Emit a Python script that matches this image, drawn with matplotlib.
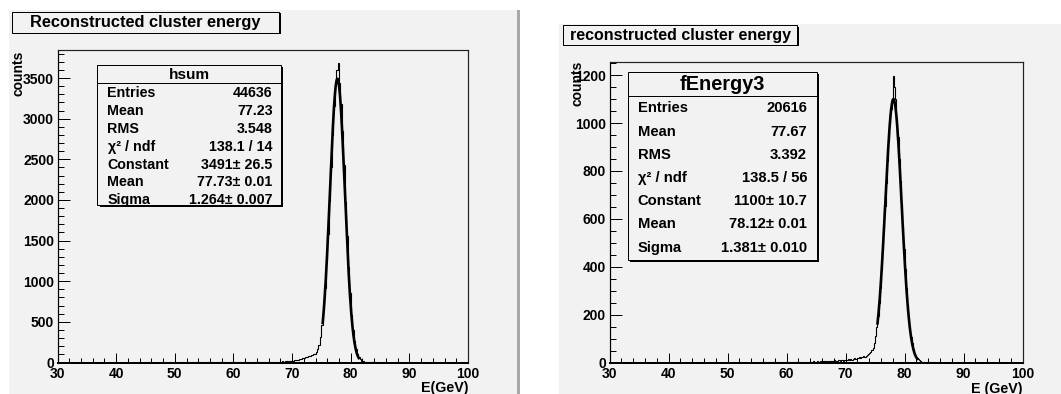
import numpy as np
import matplotlib
matplotlib.use("Agg")
import matplotlib.pyplot as plt
from matplotlib.patches import Rectangle
from matplotlib.ticker import MultipleLocator

# ---------------- data ----------------
# Left histogram: "hsum", bins of 0.25 GeV from 30 to 100 GeV
left_bin_start = 30.0
left_bin_width = 0.25
left_counts = (
    [0] * 60  # 30 - 45 GeV
    + [0, 0, 1, 0, 0, 0, 0, 1, 0, 0, 0, 1, 0, 0, 2, 0, 0, 1, 0, 0,
       1, 0, 0, 2, 0, 1, 0, 0, 1, 0, 0, 2, 1, 0, 0, 1, 0, 2, 0, 1,
       1, 0, 2, 1, 0, 1, 2, 0, 1, 3, 0, 2, 1, 1, 3, 0, 2, 1, 2, 4]  # 45 - 60
    + [2, 0, 3, 1, 4, 2, 0, 3, 5, 2, 4, 1, 3, 6, 2, 4, 5, 3, 7, 4,
       6, 4, 8, 5, 7, 9, 6, 8, 10, 7, 12, 9, 11, 14, 10, 13, 15, 12, 17, 14]  # 60 - 70
    + [22, 25, 28, 32, 36, 42, 46, 52, 58, 64, 70, 78, 86, 95, 102, 110]  # 70 - 74
    + [130, 160, 215, 310, 460, 660, 920, 1240]  # 74 - 76
    + [1580, 1990, 2400, 2800, 3150, 3400, 3600, 3685,
       3440, 3180, 2850, 2430, 1980, 1560, 1170, 850]  # 76 - 80
    + [590, 400, 262, 168, 104, 64, 38, 24, 15, 10, 7, 5, 4, 3, 2, 2]  # 80 - 84
    + [1, 1, 0, 1, 0, 0, 1, 0]  # 84 - 86
    + [0] * 56  # 86 - 100
)

# Right histogram: "fEnergy3", bins of 0.2 GeV from 30 to 100 GeV
right_bin_start = 30.0
right_bin_width = 0.2
right_counts = (
    [0] * 125  # 30 - 55 GeV
    + [0, 0, 1, 0, 0, 0, 1, 0, 0, 0, 1, 0, 0, 1, 0, 0, 0, 1, 0, 1, 0, 1, 0, 0, 1]  # 55 - 60
    + [1, 0, 2, 1, 0, 2, 1, 3, 1, 2, 2, 3, 1, 4, 2, 3, 2, 4, 3, 2, 4, 3, 5, 3, 4]  # 60 - 65
    + [4, 5, 3, 6, 4, 5, 7, 5, 6, 4, 7, 6, 8, 5, 7, 9, 6, 8, 7, 10, 8, 9, 11, 8, 10]  # 65 - 70
    + [12, 9, 13, 11, 15, 12, 14, 17, 13, 16]  # 70 - 72
    + [18, 21, 19, 24, 22, 26, 25, 29, 31, 34]  # 72 - 74
    + [40, 44, 52, 62, 80, 110, 150, 195, 250, 310]  # 74 - 76
    + [385, 470, 560, 655, 750, 840, 925, 1000, 1060, 1100]  # 76 - 78
    + [1198, 1150, 1100, 1020, 940, 850, 760, 665, 570, 475]  # 78 - 80
    + [390, 312, 246, 190, 146, 108, 80, 57, 40, 28]  # 80 - 82
    + [19, 13, 9, 6, 4, 3, 2, 2, 1, 1]  # 82 - 84
    + [1, 0, 1, 0, 0, 1, 0, 0, 0, 0]  # 84 - 86
    + [0] * 70  # 86 - 100
)

# Statistics / Gaussian fit results
left_name = "hsum"
left_entries = 44636
left_mean = 77.23
left_rms = 3.548
left_chi2, left_ndf = 138.1, 14
left_const, left_const_err = 3491, 26.5
left_fit_mean, left_fit_mean_err = 77.73, 0.01
left_sigma, left_sigma_err = 1.264, 0.007
left_fit_range = (75.2, 81.5)

right_name = "fEnergy3"
right_entries = 20616
right_mean = 77.67
right_rms = 3.392
right_chi2, right_ndf = 138.5, 56
right_const, right_const_err = 1100, 10.7
right_fit_mean, right_fit_mean_err = 78.12, 0.01
right_sigma, right_sigma_err = 1.381, 0.010
right_fit_range = (75.4, 82.3)

left_title = "Reconstructed cluster energy"
right_title = "reconstructed cluster energy"
left_xlabel = "E(GeV)"
right_xlabel = "E (GeV)"
ylabel = "counts"

# ---------------- figure ----------------
W, H = 1061, 394
DPI = 100
BG = "#f2f2f2"
plt.rcParams["font.family"] = ["Liberation Sans", "DejaVu Sans"]
plt.rcParams["font.weight"] = "bold"

fig = plt.figure(figsize=(W / DPI, H / DPI), dpi=DPI)
fig.patch.set_facecolor("white")


def px(pt):
    return pt * 72.0 / DPI


def frame(x0, y0, x1, y1):
    return [x0 / W, 1 - y1 / H, (x1 - x0) / W, (y1 - y0) / H]


# background canvases
bg = fig.add_axes([0, 0, 1, 1], zorder=0)
bg.set_xlim(0, W)
bg.set_ylim(H, 0)
bg.axis("off")
bg.add_patch(Rectangle((8.5, 10), 508.5, H - 10, facecolor=BG, edgecolor="none"))
bg.add_patch(Rectangle((517, 10), 3, H - 10, facecolor="#a9a9a9", edgecolor="none"))
bg.add_patch(Rectangle((559, 24.4), W - 559, H - 24.4, facecolor=BG, edgecolor="none"))


def draw_hist(rect, start, width, counts, ymax, ymajor, yminor,
              const, mu, sig, fit_range):
    ax = fig.add_axes(frame(*rect), zorder=1)
    ax.set_facecolor("none")
    counts = np.asarray(counts, dtype=float)
    edges = start + width * np.arange(len(counts) + 1)
    ax.stairs(counts, edges, color="black", linewidth=0.8, baseline=0)
    xf = np.linspace(fit_range[0], fit_range[1], 400)
    ax.plot(xf, const * np.exp(-0.5 * ((xf - mu) / sig) ** 2),
            color="black", linewidth=1.9, solid_capstyle="butt")
    ax.set_xlim(30, 100)
    ax.set_ylim(0, ymax)
    ax.xaxis.set_major_locator(MultipleLocator(10))
    ax.xaxis.set_minor_locator(MultipleLocator(2))
    ax.yaxis.set_major_locator(MultipleLocator(ymajor))
    ax.yaxis.set_minor_locator(MultipleLocator(yminor))
    ax.tick_params(which="both", direction="in", top=False, right=False,
                   width=px(1), colors="black", labelsize=10)
    ax.tick_params(axis="y", which="major", length=px(12), pad=px(3.5))
    ax.tick_params(axis="y", which="minor", length=px(6))
    ax.tick_params(axis="x", which="major", length=px(10), pad=px(5))
    ax.tick_params(axis="x", which="minor", length=px(5))
    for s in ("top", "right"):
        ax.spines[s].set_linewidth(px(1.2))
        ax.spines[s].set_color("#222222")
    ax.spines["left"].set_linewidth(px(1.2))
    ax.spines["bottom"].set_linewidth(px(2))
    return ax


ax1 = draw_hist((57.5, 49.5, 468, 362.5), left_bin_start, left_bin_width,
                left_counts, 3851, 500, 100,
                left_const, left_fit_mean, left_sigma, left_fit_range)
ax2 = draw_hist((609.6, 62, 1022.5, 362.5), right_bin_start, right_bin_width,
                right_counts, 1255, 200, 50,
                right_const, right_fit_mean, right_sigma, right_fit_range)

# overlay for titles, stat boxes and axis titles
ov = fig.add_axes([0, 0, 1, 1], zorder=5)
ov.set_xlim(0, W)
ov.set_ylim(H, 0)
ov.axis("off")
ov.patch.set_alpha(0)


def shadow_box(x0, y0, x1, y1, shadow=2.0, fill=BG):
    ov.add_patch(Rectangle((x0 + shadow, y0 + shadow), x1 - x0, y1 - y0,
                           facecolor="black", edgecolor="none"))
    ov.add_patch(Rectangle((x0, y0), x1 - x0, y1 - y0, facecolor=fill,
                           edgecolor="black", linewidth=px(1)))


# titles
shadow_box(11.8, 11.8, 279, 32.5, shadow=1.5)
ov.text(145.4, 22.6, left_title, ha="center", va="center", fontsize=11.8)
shadow_box(562.9, 25.4, 797, 44.5, shadow=1.5)
ov.text(680.0, 35.3, right_title, ha="center", va="center", fontsize=11.5)


def pm(v, e, fmt):
    return f"{v:{fmt}}\u00b1 {e:{fmt}}"


def stats_box(box, divider, header, header_size, rows, row_y, label_x,
              value_x, size):
    x0, y0, x1, y1 = box
    shadow_box(x0, y0, x1, y1, shadow=2.2, fill=BG)
    ov.plot([x0, x1], [divider, divider], color="black", linewidth=px(1))
    ov.text((x0 + x1) / 2, (y0 + divider) / 2 + 0.5, header, ha="center",
            va="center", fontsize=header_size)
    for (lab, val), y in zip(rows, row_y):
        ov.text(label_x, y, lab, ha="left", va="center", fontsize=size)
        ov.text(value_x, y, val, ha="right", va="center", fontsize=size)


left_rows = [
    ("Entries", f"{left_entries}"),
    ("Mean", f"{left_mean:.2f}"),
    ("RMS", f"{left_rms:.3f}"),
    ("\u03c7\u00b2 / ndf", f"{left_chi2:.1f} / {left_ndf}"),
    ("Constant", f"{left_const}\u00b1 {left_const_err:.1f}"),
    ("Mean", pm(left_fit_mean, left_fit_mean_err, ".2f")),
    ("Sigma", pm(left_sigma, left_sigma_err, ".3f")),
]
stats_box((97.4, 65.2, 280.5, 204.5), 82.8, left_name, 11.0, left_rows,
          [93.0, 111.0, 128.8, 146.6, 164.6, 182.4, 199.8], 107.5, 272.5, 10.3)

right_rows = [
    ("Entries", f"{right_entries}"),
    ("Mean", f"{right_mean:.2f}"),
    ("RMS", f"{right_rms:.3f}"),
    ("\u03c7\u00b2 / ndf", f"{right_chi2:.1f} / {right_ndf}"),
    ("Constant", f"{right_const}\u00b1 {right_const_err:.1f}"),
    ("Mean", pm(right_fit_mean, right_fit_mean_err, ".2f")),
    ("Sigma", pm(right_sigma, right_sigma_err, ".3f")),
]
stats_box((628.2, 71.8, 816.5, 259.5), 95.9, right_name, 14.3, right_rows,
          [108.4, 131.6, 154.8, 178.0, 201.2, 224.4, 247.6], 637.7, 807.0, 10.6)

# axis titles
ov.text(18.5, 50.5, ylabel, rotation=90, ha="center", va="top", fontsize=10)
ov.text(578.0, 61.0, ylabel, rotation=90, ha="center", va="top", fontsize=10)
ov.text(468, 388, left_xlabel, ha="right", va="center", fontsize=10.3)
ov.text(1022.5, 389, right_xlabel, ha="right", va="center", fontsize=10.3)

fig.savefig("out.png", dpi=DPI, facecolor=fig.get_facecolor())
